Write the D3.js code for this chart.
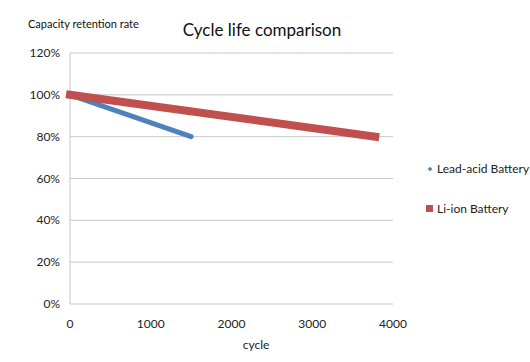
<!DOCTYPE html>
<html>
<head>
<meta charset="utf-8">
<script src="https://cdn.jsdelivr.net/npm/d3@7"></script>
<style>
  body { margin: 0; background: #fff; }
  svg { font-family: Lato, "Open Sans", sans-serif; }
</style>
</head>
<body>
<svg width="530" height="362"></svg>
<script>
// data
const seriesNames = ["Lead-acid Battery", "Li-ion Battery"];
const leadCycles = [0, 1500];
const leadRetention = [1.0, 0.8];
const liCycles = [0, 3780];
const liRetention = [1.0, 0.8];
const xTicks = [0, 1000, 2000, 3000, 4000];
const yTicks = [0, 0.2, 0.4, 0.6, 0.8, 1.0, 1.2];
const colors = ["#4f81bd", "#c0504d"];

const svg = d3.select("svg");

let x = d3.scaleLinear().domain([0, 4000]).range([70, 393]);
let y = d3.scaleLinear().domain([0, 1.2]).range([304, 53]);

// gridlines
svg.append("g")
  .selectAll("line")
  .data(yTicks)
  .join("line")
  .attr("x1", x(0)).attr("x2", x(4000))
  .attr("y1", d => y(d)).attr("y2", d => y(d))
  .attr("stroke", "#c8c8c8")
  .attr("stroke-width", 1);

// y axis line
svg.append("line")
  .attr("x1", x(0)).attr("x2", x(0))
  .attr("y1", y(1.2)).attr("y2", y(0))
  .attr("stroke", "#c8c8c8");

// y tick labels
svg.append("g")
  .selectAll("text")
  .data(yTicks)
  .join("text")
  .attr("x", 60)
  .attr("y", d => y(d) + 4)
  .attr("text-anchor", "end")
  .attr("font-size", 12)
  .attr("fill", "#222")
  .text(d => d3.format(".0%")(d));

// x tick labels
svg.append("g")
  .selectAll("text")
  .data(xTicks)
  .join("text")
  .attr("x", d => x(d))
  .attr("y", 328)
  .attr("text-anchor", "middle")
  .attr("font-size", 12)
  .attr("fill", "#222")
  .text(d => d);

let line = d3.line().x(d => x(d[0])).y(d => y(d[1]));

// lead-acid
svg.append("path")
  .attr("d", line(d3.zip(leadCycles, leadRetention)))
  .attr("fill", "none")
  .attr("stroke", colors[0])
  .attr("stroke-width", 5)
  .attr("stroke-linecap", "round");

// li-ion (drawn on top)
svg.append("path")
  .attr("d", line(d3.zip(liCycles, liRetention)))
  .attr("fill", "none")
  .attr("stroke", colors[1])
  .attr("stroke-width", 8)
  .attr("stroke-linecap", "square");

// titles
svg.append("text")
  .attr("x", 262).attr("y", 36)
  .attr("text-anchor", "middle")
  .attr("font-size", 17)
  .attr("fill", "#111")
  .text("Cycle life comparison");

svg.append("text")
  .attr("x", 28).attr("y", 28)
  .attr("font-size", 11)
  .attr("fill", "#111")
  .text("Capacity retention rate");

svg.append("text")
  .attr("x", 256).attr("y", 349)
  .attr("text-anchor", "middle")
  .attr("font-size", 12)
  .attr("fill", "#222")
  .text("cycle");

// legend
let legend = svg.append("g");
seriesNames.forEach((name, i) => {
  let ly = 169 + i * 40;
  if (i === 0) {
    legend.append("path")
      .attr("d", d3.symbol(d3.symbolDiamond2, 14)())
      .attr("transform", `translate(430,${ly})`)
      .attr("fill", colors[i]);
  } else {
    legend.append("rect")
      .attr("x", 426).attr("y", ly - 4)
      .attr("width", 7).attr("height", 7)
      .attr("fill", colors[i]);
  }
  legend.append("text")
    .attr("x", 437).attr("y", ly + 4)
    .attr("font-size", 12)
    .attr("fill", "#222")
    .text(name);
});
</script>
</body>
</html>
